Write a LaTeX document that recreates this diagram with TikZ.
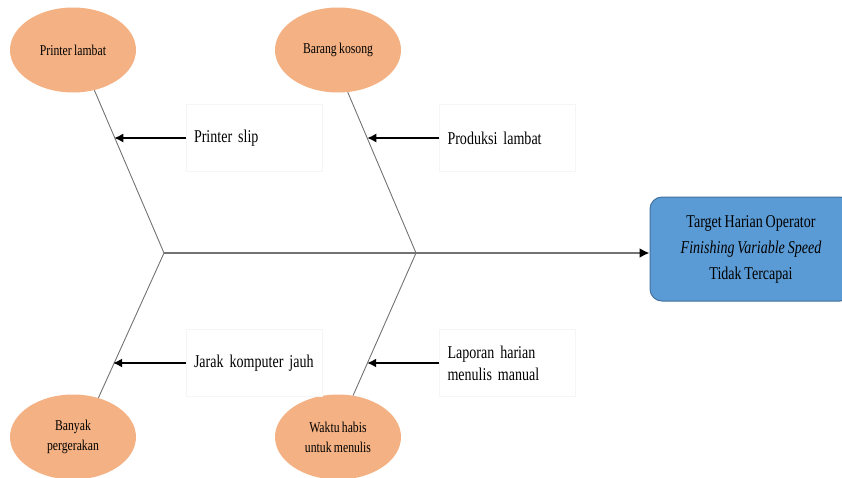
\documentclass[tikz,border=0pt]{standalone}
\usepackage{fontspec}
\setmainfont{Liberation Serif}[FakeStretch=0.78, WordSpace=0.8]
\usetikzlibrary{shapes.geometric,arrows.meta,calc}
\definecolor{causeorange}{HTML}{F4B183}
\definecolor{effectblue}{HTML}{5B9BD5}
\definecolor{effectline}{HTML}{41719C}
\begin{document}
\begin{tikzpicture}[x=1pt, y=-1pt,
  cause/.style={ellipse, fill=causeorange, minimum width=126pt, minimum height=85pt, inner sep=0pt, align=center, font=\fontsize{15}{20}\selectfont},
  effect/.style={draw=effectline, fill=effectblue, line width=1pt, rounded corners=12pt, minimum width=202pt, minimum height=104pt, align=center, font=\fontsize{18}{26}\selectfont},
  sub/.style={draw=black!4, minimum height=67pt, text width=120pt, inner xsep=8pt, align=left, font=\fontsize{18}{22}\selectfont},
  bone/.style={draw=black!55, line width=0.9pt},
  spine/.style={draw=black!55, line width=2pt, -{Latex[length=10pt, width=10pt, black]}},
  push/.style={-{Latex[length=9pt, width=9pt]}, line width=1.4pt}]
  \useasboundingbox (0,0) rectangle (842,477);

  % Nodes
  \node[cause] (plambat) at (73,50) {Printer lambat};
  \node[cause] (bkosong) at (338,50) {Barang kosong};
  \node[cause] (banyak) at (73,437) {Banyak\\pergerakan};
  \node[cause] (waktu) at (338,437) {Waktu habis\\untuk menulis};
  \node[effect] (target) at (751,249) {Target Harian Operator\\\textit{Finishing Variable Speed}\\Tidak Tercapai};

  \node[sub] (pslip) at (254,138) {Printer slip};
  \node[sub] (produksi) at (507.5,138) {Produksi lambat};
  \node[sub] (jarak) at (254,363) {Jarak komputer jauh};
  \node[sub] (laporan) at (507.5,363) {Laporan harian\\menulis manual};

  \coordinate (tail) at (164,253);
  \coordinate (mid) at (416,253);

  % Bones
  \draw[spine] (tail) -- (tail -| target.west);
  \draw[bone] (tail) -- (plambat.-62);
  \draw[bone] (mid) -- (bkosong.-77);
  \draw[bone] (tail) -- (banyak.57);
  \draw[bone] (mid) -- (waktu.70);

  % Causes
  \coordinate (slipend) at ($(tail)!0.714!(plambat.-62)$);
  \coordinate (produksiend) at ($(mid)!0.714!(bkosong.-77)$);
  \coordinate (jarakend) at ($(tail)!0.775!(banyak.57)$);
  \coordinate (laporanend) at ($(mid)!0.775!(waktu.70)$);
  \draw[push] (pslip.west) -- (pslip.west -| slipend);
  \draw[push] (produksi.west) -- (produksi.west -| produksiend);
  \draw[push] (jarak.west) -- (jarak.west -| jarakend);
  \draw[push] (laporan.west) -- (laporan.west -| laporanend);
\end{tikzpicture}
\end{document}
